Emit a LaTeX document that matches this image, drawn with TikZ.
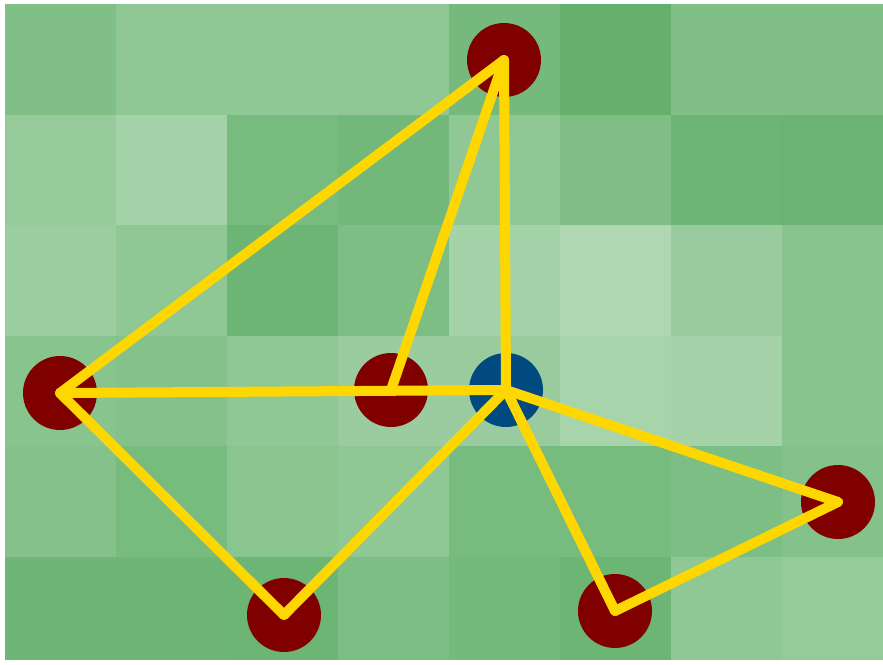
\documentclass[tikz,border=0pt]{standalone}
\usetikzlibrary{backgrounds}
\definecolor{edgeyellow}{HTML}{FFD700}
\definecolor{dotred}{HTML}{800000}
\definecolor{dotblue}{HTML}{004A80}
\tikzset{
  dot/.style={circle, minimum size=74pt, inner sep=0pt, draw=none},
  reddot/.style={dot, fill=dotred},
  bluedot/.style={dot, fill=dotblue},
  link/.style={draw=edgeyellow, line width=10pt, line cap=round, line join=round},
}
\newcommand{\cellrow}[2]{%
  \foreach \col [count=\i from 0] in {#2} {
    \definecolor{cellcol}{HTML}{\col}
    \fill[cellcol] ({5+\i*111}, {4+#1*110.6}) rectangle ++(111.5, 111);
  }%
}
\begin{document}
\begin{tikzpicture}[x=1pt, y=-1pt]
\useasboundingbox (0,0) rectangle (883,664);
\begin{scope}
  \clip (5,4) rectangle (883,659);
  \cellrow{0}{80BF86,8FC795,8FC795,8FC795,75B97C,66B06D,80BF86,80BF86}
  \cellrow{1}{96CA9B,A5D3A9,78BB7F,72B87A,8FC795,7FBF85,6DB574,6AB372}
  \cellrow{2}{9CCDA0,8FC795,6DB574,7DBE84,A5D3A9,AFD8B2,9ACB9F,88C48E}
  \cellrow{3}{88C48E,85C28B,8FC795,9BCC9F,9ACB9F,A8D4AC,A5D2A9,88C48E}
  \cellrow{4}{85C28B,78BB7F,8AC590,8FC795,78BB7F,78BB7F,7DBE84,85C28B}
  \cellrow{5}{6FB676,6FB676,6DB574,7DBE84,75B97C,6DB574,8FC795,96CA9B}
\end{scope}
\node[reddot] (top) at (504,60) {};
\node[reddot] (left) at (60,393) {};
\node[reddot] (mid) at (391,390) {};
\node[bluedot] (hub) at (506,390) {};
\node[reddot] (bl) at (284,615) {};
\node[reddot] (bm) at (615,611) {};
\node[reddot] (right) at (838,502) {};
\draw[link] (top.center) -- (left.center);
\draw[link] (top.center) -- (mid.center);
\draw[link] (top.center) -- (hub.center);
\draw[link] (left.center) -- (hub.center);
\draw[link] (left.center) -- (bl.center);
\draw[link] (bl.center) -- (hub.center);
\draw[link] (hub.center) -- (bm.center);
\draw[link] (hub.center) -- (right.center);
\draw[link] (right.center) -- (bm.center);
\end{tikzpicture}
\end{document}
